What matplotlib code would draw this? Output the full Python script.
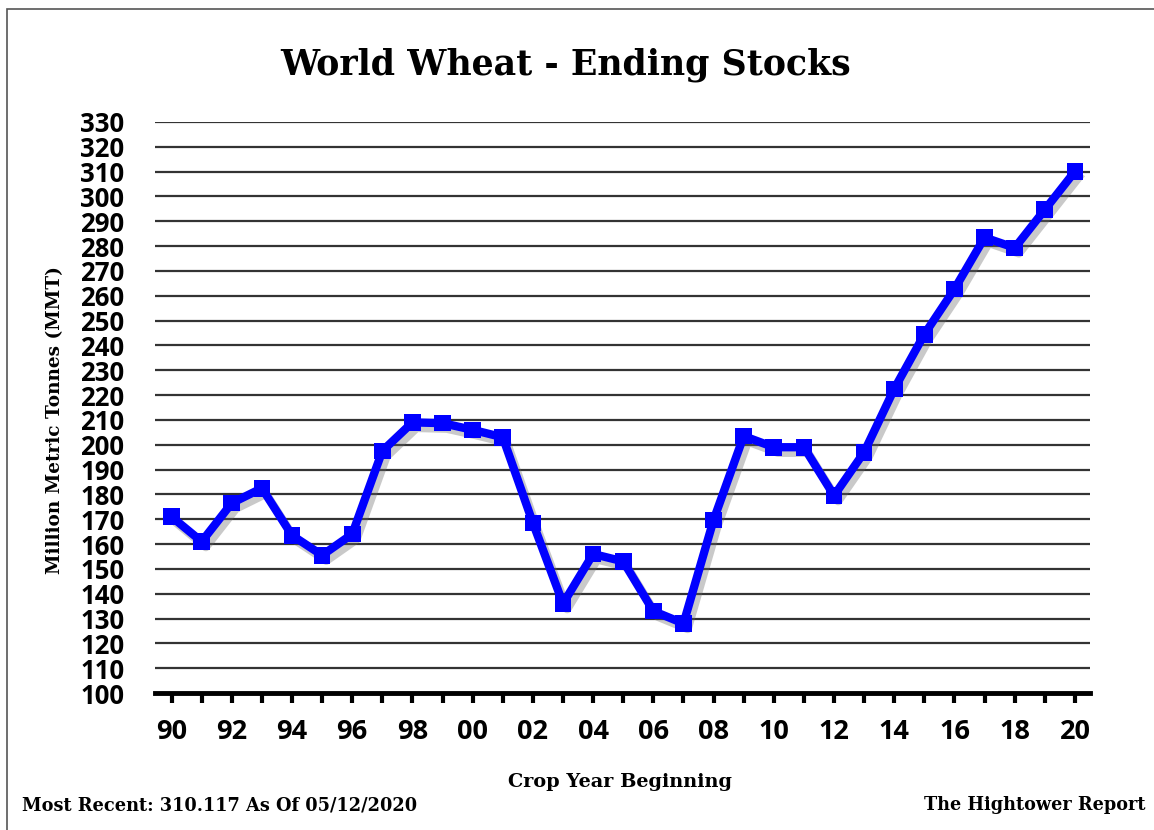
import matplotlib
matplotlib.use("Agg")
import matplotlib.pyplot as plt
import matplotlib.patheffects as pe
from matplotlib.patches import Rectangle

years = list(range(1990, 2021))
stocks = [171, 161, 176.5, 182.5, 163.5, 155.5, 164, 197.5, 209, 208.7, 206, 203,
          168.5, 136, 156, 153, 133, 128, 169.7, 203.5, 199, 199, 179.5, 197,
          222.5, 244.5, 262.7, 283.5, 279.3, 294.7, 310.1]
tick_years = years[::2]
tick_labels = [f"{y % 100:02d}" for y in tick_years]
yticks = list(range(100, 331, 10))

W, H = 1154, 830
fig = plt.figure(figsize=(W / 100, H / 100), dpi=100)
fig.patch.set_facecolor("white")
fig.patches.append(Rectangle((7 / W, -0.01), 1.02, (H - 9) / H + 0.01, transform=fig.transFigure,
                             fill=False, edgecolor="#555555", linewidth=1.2))

ax = fig.add_axes([155 / W, (H - 693) / H, (1090 - 155) / W, (693 - 122) / H])
ax.set_facecolor("white")

sans = ["Open Sans", "DejaVu Sans"]
serif = ["DejaVu Serif"]

for v in yticks[1:]:
    ax.axhline(v, color="#333333", linewidth=1.6, zorder=1)

ax.plot(years, stocks, color="#0000FF", linewidth=6, marker="s", markersize=12,
        markeredgewidth=0, zorder=3,
        path_effects=[pe.SimpleLineShadow(offset=(3, -4), shadow_color="#666666", alpha=0.35),
                      pe.Normal()])

ax.set_xlim(1989.45, 2020.5)
ax.set_ylim(100, 330)
ax.set_yticks(yticks)
ax.set_yticklabels([str(v) for v in yticks], fontfamily=sans, fontweight="bold", fontsize=18.5)
ax.set_xticks(tick_years)
ax.set_xticklabels(tick_labels, fontfamily=sans, fontweight="bold", fontsize=19.5)
ax.set_xticks(years, minor=True)
ax.tick_params(axis="y", length=0, pad=22)
ax.tick_params(axis="x", which="both", length=7, width=3, color="black", direction="out", pad=12)

for s in ["top", "right", "left"]:
    ax.spines[s].set_visible(False)
ax.spines["bottom"].set_linewidth(3.5)
ax.spines["bottom"].set_color("black")
ax.spines["bottom"].set_zorder(4)

fig.text(566 / W, 1 - 65 / H, "World Wheat - Ending Stocks", ha="center", va="center",
         fontfamily=serif, fontweight="bold", fontsize=25)
fig.text(55 / W, 1 - 420 / H, "Million Metric Tonnes (MMT)", ha="center", va="center",
         rotation=90, fontfamily=serif, fontweight="bold", fontsize=13.3)
fig.text(620 / W, 1 - 782 / H, "Crop Year Beginning", ha="center", va="center",
         fontfamily=serif, fontweight="bold", fontsize=13.9)
fig.text(22 / W, 1 - 805 / H, "Most Recent: 310.117 As Of 05/12/2020", ha="left", va="center",
         fontfamily=serif, fontweight="bold", fontsize=12.8)
fig.text(1145 / W, 1 - 805 / H, "The Hightower Report", ha="right", va="center",
         fontfamily=serif, fontweight="bold", fontsize=12.7)

fig.savefig("out.png", dpi=100, facecolor="white")
